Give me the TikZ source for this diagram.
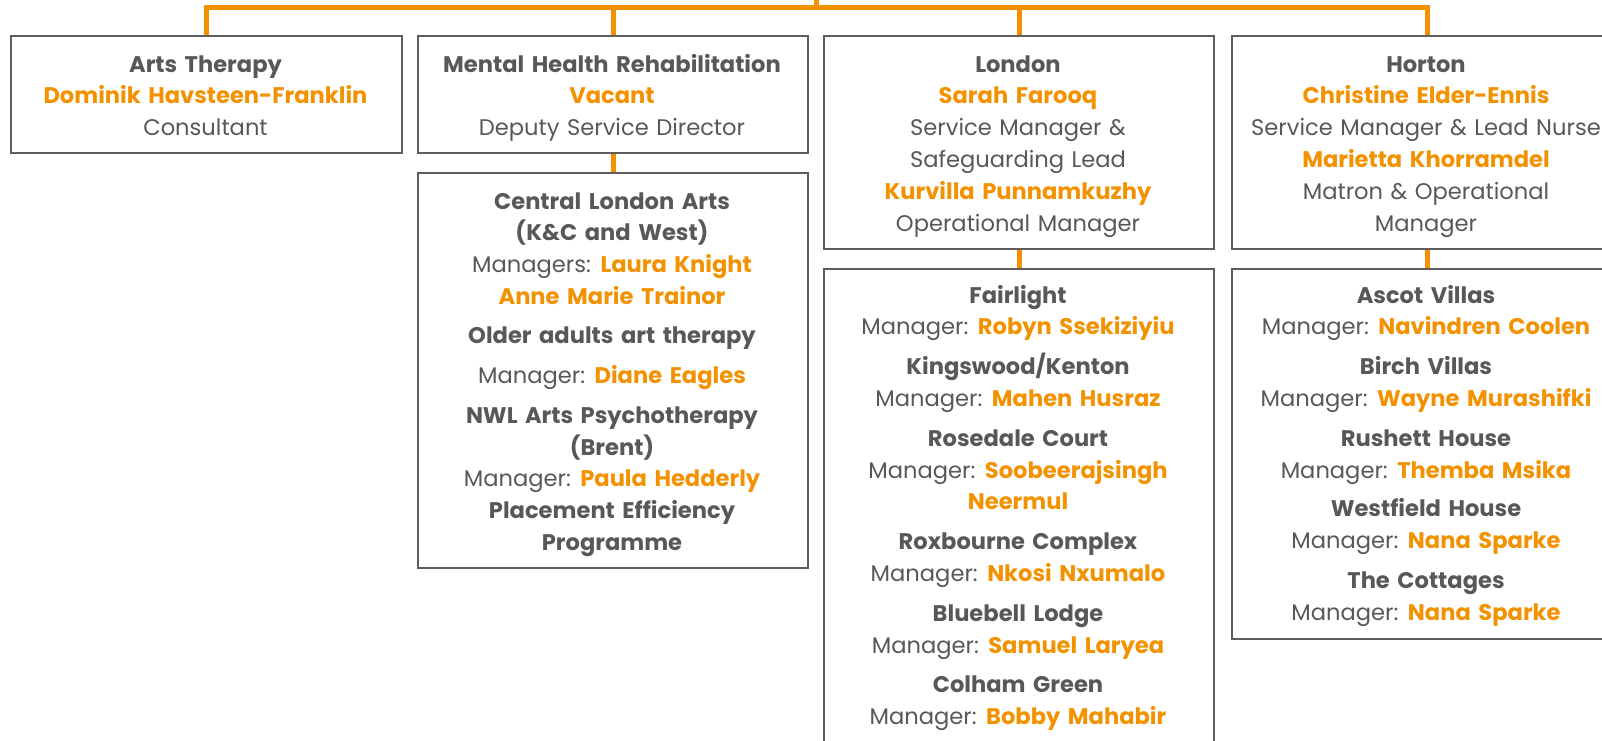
\documentclass[tikz,border=0pt]{standalone}
\usepackage{fontspec}
\setmainfont{Poppins}
\definecolor{org}{HTML}{F39200}
\definecolor{txtgray}{HTML}{58585A}
\definecolor{boxgray}{HTML}{5E5E5E}
\newcommand{\hd}[1]{\textbf{#1}}
\newcommand{\nm}[1]{\textcolor{org}{\textbf{#1}}}
\newcommand{\mgr}{Manager:\hspace{-0.08em} }
\tikzset{
  box/.style={draw=boxgray, line width=2pt, rectangle, inner sep=0pt, anchor=north west},
  conn/.style={draw=org, line width=5pt},
  txt/.style={text=txtgray, align=center, anchor=base, inner sep=0pt, text width=388pt,
    font=\fontsize{22.6}{31.8}\selectfont},
}
\begin{document}
\begin{tikzpicture}[x=1pt,y=-1pt]
\useasboundingbox (0,0) rectangle (1602,740);
\clip (0,0) rectangle (1602,740);
% boxes
\node[box, minimum width=391pt, minimum height=117pt] (arts) at (10,35) {};
\node[box, minimum width=390pt, minimum height=117pt] (mhr) at (417,35) {};
\node[box, minimum width=390pt, minimum height=213pt] (london) at (823,35) {};
\node[box, minimum width=390pt, minimum height=213pt] (horton) at (1231,35) {};
\node[box, minimum width=390pt, minimum height=395pt] (cla) at (417,172) {};
\node[box, minimum width=390pt, minimum height=500pt] (fair) at (823,268) {};
\node[box, minimum width=390pt, minimum height=370pt] (ascot) at (1231,268) {};
% connectors
\coordinate (top) at (816,0);
\coordinate (bus) at (816,7);
\draw[conn] (arts.north) -- (arts.north |- bus) -- (horton.north |- bus) -- (horton.north);
\draw[conn] (top) -- (bus);
\draw[conn] (mhr.north) -- (mhr.north |- bus);
\draw[conn] (london.north) -- (london.north |- bus);
\draw[conn] (mhr.south) -- (cla.north);
\draw[conn] (london.south) -- (fair.north);
\draw[conn] (horton.south) -- (ascot.north);
% texts
\node[txt] (artsT) at (205.5,72) {\hd{Arts Therapy}\\ \nm{Dominik Havsteen-Franklin}\\ Consultant};
\node[txt] (mhrT) at (612,72) {\hd{Mental Health Rehabilitation}\\ \nm{Vacant}\\ Deputy Service Director};
\node[txt] (londonT) at (1018,72) {\hd{London}\\ \nm{Sarah Farooq}\\ Service Manager \&\\ Safeguarding Lead\\ \nm{Kurvilla Punnamkuzhy}\\ Operational Manager};
\node[txt] (hortonT) at (1426,72) {\hd{Horton}\\ \nm{Christine Elder-Ennis}\\ Service Manager \& Lead Nurse\\ \nm{Marietta Khorramdel}\\ Matron \& Operational\\ Manager};
\node[txt] (claT) at (612,209) {\hd{Central London Arts}\\ \hd{(K\&C and West)}\\ Managers:\hspace{-0.08em} \nm{Laura Knight}\\ \nm{Anne Marie Trainor}\\[7.5pt]
  \hd{Older adults art therapy}\\[8pt] \mgr\nm{Diane Eagles}\\[8pt] \hd{NWL Arts Psychotherapy}\\ \hd{(Brent)}\\ \mgr\nm{Paula Hedderly}\\ \hd{Placement Efficiency}\\ \hd{Programme}};
\node[txt] (fairT) at (1018,303) {\hd{Fairlight}\\ \mgr\nm{Robyn Ssekiziyiu}\\[8pt]
  \hd{Kingswood/Kenton}\\ \mgr\nm{Mahen Husraz}\\[8pt]
  \hd{Rosedale Court}\\ \mgr\nm{Soobeerajsingh}\\ \nm{Neermul}\\[8pt]
  \hd{Roxbourne Complex}\\ \mgr\nm{Nkosi Nxumalo}\\[8pt]
  \hd{Bluebell Lodge}\\ \mgr\nm{Samuel Laryea}\\[8pt]
  \hd{Colham Green}\\ \mgr\nm{Bobby Mahabir}};
\node[txt] (ascotT) at (1426,303) {\hd{Ascot Villas}\\ \mgr\nm{Navindren Coolen}\\[8pt]
  \hd{Birch Villas}\\ \mgr\nm{Wayne Murashifki}\\[8pt]
  \hd{Rushett House}\\ \mgr\nm{Themba Msika}\\[7pt]
  \hd{Westfield House}\\ \mgr\nm{Nana Sparke}\\[8pt]
  \hd{The Cottages}\\ \mgr\nm{Nana Sparke}};
\end{tikzpicture}
\end{document}
